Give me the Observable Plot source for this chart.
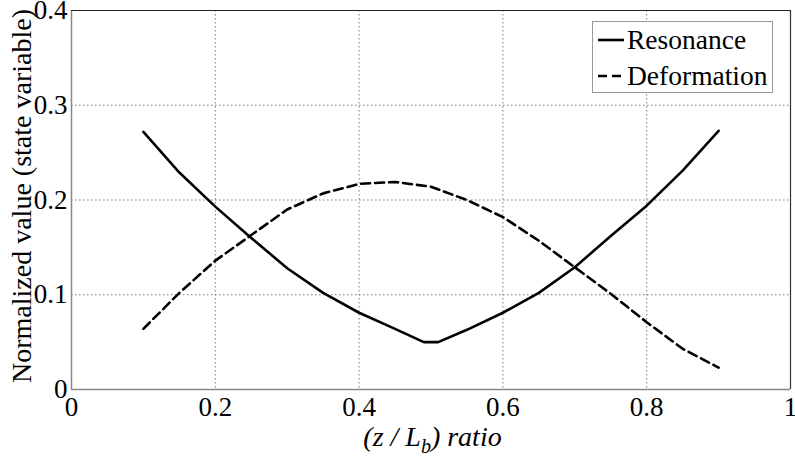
<!DOCTYPE html>
<html><head>
<meta charset="utf-8">
<script src="https://cdn.jsdelivr.net/npm/d3@7"></script>
<script src="https://cdn.jsdelivr.net/npm/@observablehq/plot@0.6"></script>
</head><body style="margin:0;background:#fff">
<div id="wrap" style="position:relative;width:795px;height:459px;font-family:'Times New Roman'"></div>
<script>
const xRes = [0.1,0.15,0.2,0.25,0.3,0.35,0.4,0.45,0.49,0.51,0.55,0.6,0.65,0.7,0.75,0.8,0.85,0.9];
const yRes = [0.272,0.229,0.193,0.160,0.128,0.102,0.081,0.064,0.050,0.050,0.063,0.081,0.102,0.129,0.162,0.194,0.231,0.273];
const xDef = [0.1,0.15,0.2,0.25,0.3,0.35,0.4,0.45,0.5,0.55,0.6,0.65,0.7,0.75,0.8,0.85,0.9];
const yDef = [0.064,0.102,0.136,0.163,0.190,0.207,0.217,0.219,0.214,0.200,0.182,0.157,0.129,0.101,0.071,0.043,0.023];
const xTicks = [0,0.2,0.4,0.6,0.8,1];
const yTicks = [0,0.1,0.2,0.3,0.4];
const seriesNames = ["Resonance","Deformation"];

const res = xRes.map((x,i)=>({x, y:yRes[i]}));
const def = xDef.map((x,i)=>({x, y:yDef[i]}));
const fmt = d3.format("~g");
const FONT = "Times New Roman";

const chart = Plot.plot({
  width: 795, height: 459,
  marginLeft: 71, marginTop: 10, marginRight: 5, marginBottom: 70,
  x: {domain: [0,1], ticks: xTicks, tickFormat: fmt},
  y: {domain: [0,0.4], ticks: yTicks, tickFormat: fmt},
  marks: [
    Plot.gridX(xTicks, {stroke: "#777", strokeOpacity: 1, strokeDasharray: "1.5,2.5", strokeWidth: 1}),
    Plot.gridY(yTicks, {stroke: "#777", strokeOpacity: 1, strokeDasharray: "1.5,2.5", strokeWidth: 1}),
    Plot.axisX({ticks: xTicks, tickFormat: fmt, tickSize: 0, tickPadding: 7, label: null, fontSize: 27, fontFamily: FONT}),
    Plot.axisY({ticks: yTicks, tickFormat: fmt, tickSize: 0, tickPadding: 4, label: null, fontSize: 27, fontFamily: FONT}),
    Plot.ruleX([0], {stroke: "#888", strokeWidth: 1.5}),
    Plot.ruleY([0], {stroke: "#888", strokeWidth: 1.5}),
    Plot.ruleX([1], {stroke: "#333", strokeWidth: 1.2}),
    Plot.ruleY([0.4], {stroke: "#222", strokeWidth: 1.2}),
    Plot.line(def, {x: "x", y: "y", stroke: "#000", strokeWidth: 2.6, strokeDasharray: "9,5"}),
    Plot.line(res, {x: "x", y: "y", stroke: "#000", strokeWidth: 2.6}),
    Plot.text(["Normalized value (state variable)"], {frameAnchor: "left", textAnchor: "middle", dx: -49, dy: -4, rotate: -90, fontFamily: FONT, fontSize: 28, fill: "#000"})
  ]
});

const wrap = document.getElementById("wrap");
wrap.appendChild(chart);

const xlab = document.createElement("div");
xlab.setAttribute("style", "position:absolute;left:0;width:795px;top:423px;text-align:center;font-style:italic;font-size:28px;padding-left:70px;box-sizing:border-box;font-family:'Times New Roman';line-height:1");
xlab.innerHTML = "(z / L<sub style=\"font-size:20px;vertical-align:-7px;line-height:0\">b</sub>) ratio";
wrap.appendChild(xlab);

const leg = document.createElement("div");
leg.setAttribute("style", "position:absolute;left:592px;top:21px;width:181px;height:72px;border:1px solid #999;background:#fff;box-sizing:border-box;font-size:27.5px;color:#000;font-family:'Times New Roman'");
seriesNames.forEach((name, i) => {
  const row = document.createElement("div");
  row.setAttribute("style", `position:absolute;left:4px;top:${3 + i*36}px;height:30px;display:flex;align-items:center;font-family:'Times New Roman';white-space:nowrap`);
  const dash = i === 0 ? "" : "9,5";
  row.innerHTML = `<svg width="28" height="10" style="margin-right:2px"><line x1="1" x2="27" y1="5" y2="5" stroke="#000" stroke-width="2.6" ${dash ? `stroke-dasharray="${dash}"` : ""}/></svg><span style="font-family:'Times New Roman'">${name}</span>`;
  leg.appendChild(row);
});
wrap.appendChild(leg);
</script>
</body></html>
